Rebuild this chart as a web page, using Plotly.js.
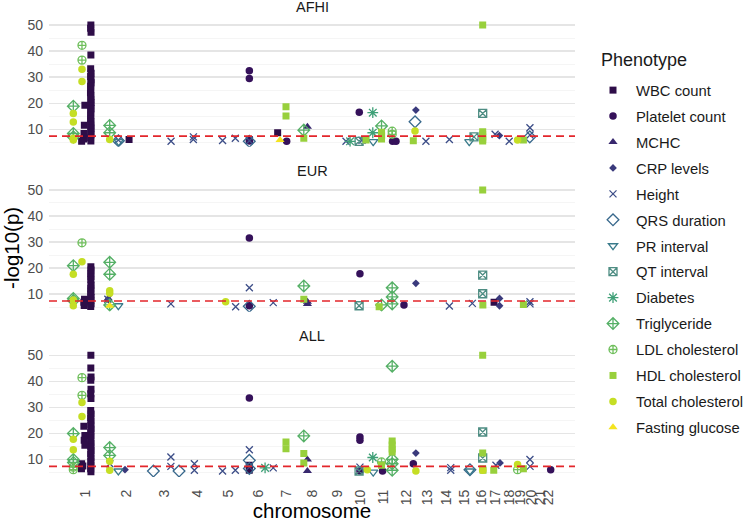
<!DOCTYPE html>
<html>
<head>
<meta charset="utf-8">
<script src="https://cdn.plot.ly/plotly-3.0.1.min.js"></script>
<style>html,body{margin:0;padding:0;background:#fff;}#chart{width:747px;height:522px;}</style>
</head>
<body>
<div id="chart"></div>
<script>
// ---------- data ----------
const chromosomes = ["1","2","3","4","5","6","7","8","9","10","11","12","13","14","15","16","17","18","19","20","21","22"];
const chrLengthMb = [249,243,198,191,181,171,159,146,141,136,135,134,115,107,103,90,81,78,59,63,48,51];
const phenotypes = ["WBC count","Platelet count","MCHC","CRP levels","Height","QRS duration","PR interval","QT interval","Diabetes","Triglyceride","LDL cholesterol","HDL cholesterol","Total cholesterol","Fasting glucose"];
const facets = ["AFHI","EUR","ALL"];
const genomeWideThreshold = 7.3; // -log10(5e-8)

// rows: [phenotype index, chromosome, position (Mb), -log10(p)]
const afhiHits = [
 [0,1,159.3,50.0],[0,1,158.0,48.7],[0,1,160.2,47.2],[0,1,159.4,38.5],[0,1,158.1,33.2],[0,1,160.5,31.5],[0,1,157.9,30.2],[0,1,159.8,29.0],[0,1,160.9,27.8],[0,1,157.6,26.5],[0,1,159.3,25.2],[0,1,157.0,24.0],[0,1,160.0,22.7],[0,1,158.5,21.4],[0,1,160.7,20.2],[0,1,158.2,19.0],[0,1,160.6,17.8],[0,1,157.9,16.5],[0,1,159.3,15.3],[0,1,157.6,14.0],[0,1,160.1,12.8],[0,1,158.5,11.5],[0,1,160.8,10.3],[0,1,158.2,9.0],[0,1,160.6,7.8],[0,1,157.7,6.6],[0,1,159.3,5.4],
 [0,1,124.0,19.2],[0,1,121.0,11.5],[0,1,119.0,8.3],[0,1,116.0,6.2],[0,1,105.0,5.3],[0,2,135.0,6.0],[0,6,29.0,6.0],[0,7,25.0,8.6],
 [1,6,29.5,32.4],[1,6,29.5,29.4],[1,6,30.5,5.4],[1,7,78.0,5.3],[1,10,59.0,16.5],[1,11,119.0,5.3],[1,12,4.0,5.3],
 [2,8,41.0,10.9],
 [3,12,121.0,17.3],[3,17,63.0,7.5],
 [4,2,72.0,5.8],[4,3,139.0,5.3],[4,4,72.0,6.0],[4,4,72.5,7.0],[4,5,53.0,5.6],[4,5,128.0,6.5],[4,6,30.0,5.5],[4,9,122.0,5.3],[4,10,75.0,5.7],[4,13,46.0,5.3],[4,14,69.0,6.0],[4,17,38.0,8.0],[4,18,40.0,5.3],[4,20,25.0,10.5],[4,20,25.5,7.7],
 [5,2,72.5,5.5],[5,6,29.0,5.3],[5,12,116.0,12.8],[5,20,24.0,7.0],
 [6,2,74.0,5.2],[6,11,5.0,5.2],[6,15,79.0,5.2],
 [7,10,58.0,5.3],[7,16,4.0,7.0],[7,16,55.0,16.0],
 [8,10,5.0,5.3],[8,11,2.5,16.3],[8,11,2.5,8.6],
 [9,1,56.0,18.8],[9,1,56.0,8.3],[9,1,56.5,7.0],[9,2,21.0,11.4],[9,2,21.0,8.6],[9,8,19.8,9.6],[9,11,54.0,11.2],
 [10,1,107.0,42.2],[10,1,107.0,36.5],[10,11,116.6,9.2],[10,11,116.6,8.0],
 [11,7,74.0,18.6],[11,7,74.0,15.0],[11,8,19.8,6.5],[11,10,99.0,5.8],[11,11,54.0,8.8],[11,11,54.5,7.4],[11,11,54.0,6.2],[11,12,106.0,5.5],[11,16,55.0,50.0],[11,16,55.0,9.0],[11,16,55.0,8.0],[11,16,55.0,7.0],[11,16,55.0,6.0],[11,16,55.0,5.4],[11,19,45.4,5.8],
 [12,1,107.0,33.0],[12,1,107.0,28.3],[12,1,56.0,16.0],[12,1,56.0,12.7],[12,1,56.0,5.8],[12,1,56.5,6.5],[12,2,21.0,6.0],[12,12,116.0,9.3],[12,19,11.2,5.8],
 [13,7,39.0,5.8]
];
const eurHits = [
 [0,1,159.3,20.5],[0,1,160.2,19.2],[0,1,158.6,17.9],[0,1,159.9,16.6],[0,1,158.9,15.4],[0,1,160.4,13.5],[0,1,158.5,12.3],[0,1,159.7,11.1],[0,1,158.2,9.9],[0,1,160.5,8.7],[0,1,158.8,7.5],[0,1,160.1,6.3],[0,1,158.4,5.2],
 [0,1,122.0,8.0],[0,1,118.0,6.8],[0,1,126.0,7.2],[0,1,120.0,5.6],[0,17,32.0,6.8],
 [1,6,29.5,31.5],[1,6,29.5,5.5],[1,10,63.0,17.8],[1,12,51.0,5.8],
 [2,2,12.0,8.3],[2,8,41.0,7.0],[2,8,41.0,6.2],
 [3,2,14.0,7.8],[3,12,121.0,14.1],[3,17,64.0,8.3],[3,17,64.0,5.5],
 [4,2,10.0,8.0],[4,3,138.0,6.2],[4,5,130.0,5.1],[4,6,29.5,12.4],[4,6,170.0,6.7],[4,14,69.0,5.4],[4,15,97.0,6.4],[4,20,25.0,7.0],[4,20,25.5,6.2],
 [5,6,29.0,5.3],
 [6,2,72.0,5.5],
 [7,10,58.0,5.5],[7,16,55.0,17.3],[7,16,55.0,10.1],
 [9,1,56.0,20.9],[9,1,56.0,8.3],[9,1,56.5,7.5],[9,2,21.0,22.2],[9,2,21.0,17.6],[9,2,21.0,5.8],[9,8,19.8,13.1],[9,11,54.0,5.8],[9,11,116.6,12.4],[9,11,116.6,8.9],[9,11,116.6,6.2],
 [10,1,107.0,29.7],
 [11,8,19.8,8.0],[11,11,40.0,5.1],[11,16,55.0,50.0],[11,16,56.0,5.8],[11,19,45.4,6.0],
 [12,1,107.0,22.4],[12,1,56.0,17.6],[12,1,56.0,7.7],[12,1,56.0,5.5],[12,2,21.0,11.3],[12,2,21.0,10.3],[12,5,71.0,7.0],
 [13,2,21.0,5.5]
];
const allHits = [
 [0,1,159.3,50.0],[0,1,159.0,45.1],[0,1,160.2,41.7],[0,1,158.8,40.4],[0,1,160.0,36.9],[0,1,158.6,35.2],[0,1,159.8,33.4],[0,1,158.4,28.8],[0,1,160.5,27.4],[0,1,158.0,26.0],[0,1,160.2,24.6],[0,1,158.7,23.2],[0,1,160.6,21.8],[0,1,158.3,20.4],[0,1,160.1,19.0],[0,1,157.9,17.6],[0,1,160.4,16.2],[0,1,158.5,14.8],[0,1,160.7,13.4],[0,1,158.1,12.0],[0,1,160.3,10.6],[0,1,158.6,9.2],[0,1,160.0,7.8],[0,1,158.2,6.4],[0,1,159.6,5.2],
 [0,1,118.0,22.7],[0,1,124.0,19.2],[0,1,120.0,17.3],[0,1,124.0,15.4],[0,1,105.0,8.3],[0,1,104.0,6.4],[0,1,112.0,7.4],[0,6,29.0,7.7],[0,6,29.0,5.8],
 [1,6,29.5,33.6],[1,10,63.0,18.6],[1,10,63.0,17.3],[1,10,63.0,5.5],[1,11,60.0,5.5],[1,12,106.0,8.3],[1,22,36.0,6.0],
 [2,8,41.0,9.9],[2,8,41.0,5.5],
 [3,2,111.0,6.0],[3,12,121.0,12.4],[3,17,67.0,8.6],
 [4,2,22.0,8.3],[4,3,138.0,10.9],[4,3,138.0,7.3],[4,4,78.0,8.3],[4,4,78.0,5.8],[4,5,53.0,5.5],[4,5,128.0,5.8],[4,6,29.5,13.7],[4,6,29.5,7.0],[4,6,170.0,6.7],[4,10,63.0,7.0],[4,14,77.0,6.8],[4,14,77.0,5.8],[4,17,43.0,7.7],[4,20,25.0,9.9],[4,20,25.5,7.3],
 [5,3,35.0,5.5],[5,3,186.0,5.5],[5,6,29.5,9.6],[5,6,29.5,6.5],[5,15,83.0,6.0],
 [6,2,72.0,5.5],[6,11,5.0,5.1],[6,15,83.0,5.5],
 [7,10,58.0,5.5],[7,16,55.0,20.5],[7,16,55.0,10.5],
 [8,6,122.0,6.7],[8,11,2.5,10.7],
 [9,1,56.0,19.9],[9,1,56.0,9.9],[9,1,56.5,8.8],[9,2,21.0,14.5],[9,2,21.0,11.5],[9,8,19.8,19.0],[9,11,116.6,45.8],[9,11,116.6,10.0],[9,11,116.6,8.3],[9,11,116.6,5.8],
 [10,1,107.0,41.4],[10,1,107.0,34.6],[10,1,56.0,7.0],[10,1,56.0,6.0],[10,11,54.0,9.0],[10,19,11.2,6.0],
 [11,7,74.0,16.7],[11,7,74.0,14.1],[11,8,19.8,12.2],[11,8,19.8,8.6],[11,11,54.0,7.7],[11,11,116.6,17.0],[11,11,116.6,15.5],[11,11,116.6,14.0],[11,11,116.6,12.8],[11,16,55.0,50.0],[11,16,55.0,12.4],[11,16,55.0,6.4],[11,16,57.0,5.8],[11,17,30.0,5.8],[11,19,45.4,6.4],
 [12,1,107.0,31.8],[12,1,107.0,26.5],[12,1,56.0,17.7],[12,1,56.0,13.7],[12,2,21.0,9.3],[12,2,21.0,5.8],[12,10,106.0,6.0],[12,12,121.0,5.5],[12,16,55.0,5.8],[12,19,11.2,8.0]
];
const facetHits = [afhiHits, eurHits, allHits];

// ---------- styles ----------
const phenoColors = ["#2e0d48","#35115a","#38286e","#3a3a7c","#3d4e88","#38688c","#3a7b8b","#4e8d83","#3fa077","#55b066","#6fbf5c","#98d03c","#c5de24","#f4e41f"];
const phenoSymbols = ["square","circle","triangle-up","diamond","x-thin-open","diamond-open","triangle-down-open","square-x-open","asterisk-open","diamond-cross-open","circle-cross-open","square","circle","triangle-up"];
const phenoSizes = [7,7.5,8,6,7,9,8,8,9,9,8,7,7.5,8];
const phenoOpen = [false,false,false,false,true,true,true,true,true,true,true,false,false,false];

// cumulative chromosome starts
const chrStart = [];
let acc = 0;
chrLengthMb.forEach(function(L){ chrStart.push(acc); acc += L; });
const chrCenters = chrLengthMb.map(function(L,i){ return chrStart[i] + L/2; });

const yaxisIds = ['y','y2','y3'];
const traces = [];
phenotypes.forEach(function(ph, p){
  facetHits.forEach(function(rows, f){
    const sel = rows.filter(function(r){ return r[0] === p; });
    traces.push({
      type:'scatter', mode:'markers', name: ph, legendgroup: ph,
      showlegend: f === 0,
      xaxis:'x', yaxis: yaxisIds[f],
      x: sel.map(function(r){ return chrStart[r[1]-1] + r[2]; }),
      y: sel.map(function(r){ return r[3]; }),
      marker:{symbol: phenoSymbols[p], size: phenoSizes[p], color: phenoColors[p],
        line:{color: phenoColors[p], width: phenoOpen[p] ? 1.3 : 0}},
      hovertemplate: ph + ': %{y}<extra></extra>'
    });
  });
});

const yCommon = {
  range:[3.2,52.3], tickvals:[10,20,30,40,50], ticktext:["10","20","30","40","50"],
  showgrid:true, gridcolor:'#e5e5e5', gridwidth:1.1, zeroline:false, showline:false, ticks:'',
  tickfont:{size:14, color:'#4d4d4d', family:'Liberation Sans, Arial, sans-serif'}, ticklabelstandoff:5,
  minor:{tickvals:[5,15,25,35,45], showgrid:true, gridcolor:'#efefef', gridwidth:0.6, ticks:''},
  anchor:'x', fixedrange:true
};
function yax(domain, extra){ return Object.assign({}, yCommon, {domain: domain}, extra || {}); }

const shapes = yaxisIds.map(function(id){
  return {type:'line', xref:'paper', x0:0, x1:1, yref:id, y0:genomeWideThreshold, y1:genomeWideThreshold,
    line:{color:'#e3262b', width:1.6, dash:'8px,5px'}, layer:'above'};
});

const stripY = [1.0265, 0.6692, 0.3087];
const annotations = facets.map(function(name, i){
  return {text:name, xref:'paper', yref:'paper', x:0.5, y:stripY[i], xanchor:'center', yanchor:'middle',
    showarrow:false, font:{size:14.5, color:'#1a1a1a', family:'Liberation Sans, Arial, sans-serif'}};
});
annotations.push({text:'Phenotype', xref:'paper', yref:'paper', x:(599-49)/526, y:(477-60)/458,
  xanchor:'left', yanchor:'middle', showarrow:false,
  font:{size:18, color:'#1a1a1a', family:'Liberation Sans, Arial, sans-serif'}});

const layout = {
  width:747, height:522,
  margin:{l:49, r:172, t:19, b:45},
  paper_bgcolor:'#ffffff', plot_bgcolor:'#ffffff',
  font:{family:'Liberation Sans, Arial, sans-serif', color:'#1a1a1a'},
  xaxis:{range:[-87,3007], tickvals: chrCenters, ticktext: chromosomes, tickangle:-90,
    showgrid:false, zeroline:false, showline:false, ticks:'', anchor:'y3',
    tickfont:{size:14, color:'#4d4d4d'}, ticklabelstandoff:9,
    title:{text:'chromosome', font:{size:20.5, color:'#000000'}, standoff:2}, automargin:false, fixedrange:true},
  yaxis: yax([0.721,1]),
  yaxis2: yax([0.3609,0.6397], {title:{text:'-log10(p)', font:{size:20.5, color:'#000000'}, standoff:3}, automargin:false}),
  yaxis3: yax([0,0.2788]),
  shapes: shapes,
  annotations: annotations,
  showlegend:true,
  legend:{xref:'container', yref:'container', x:590/747, y:1-74/522, xanchor:'left', yanchor:'top',
    traceorder:'grouped', tracegroupgap:3.7, bgcolor:'rgba(0,0,0,0)', itemwidth:36, maxheight:500,
    font:{size:14.8, color:'#1a1a1a'}}
};

Plotly.newPlot('chart', traces, layout, {displayModeBar:false, staticPlot:true});
</script>
</body>
</html>
